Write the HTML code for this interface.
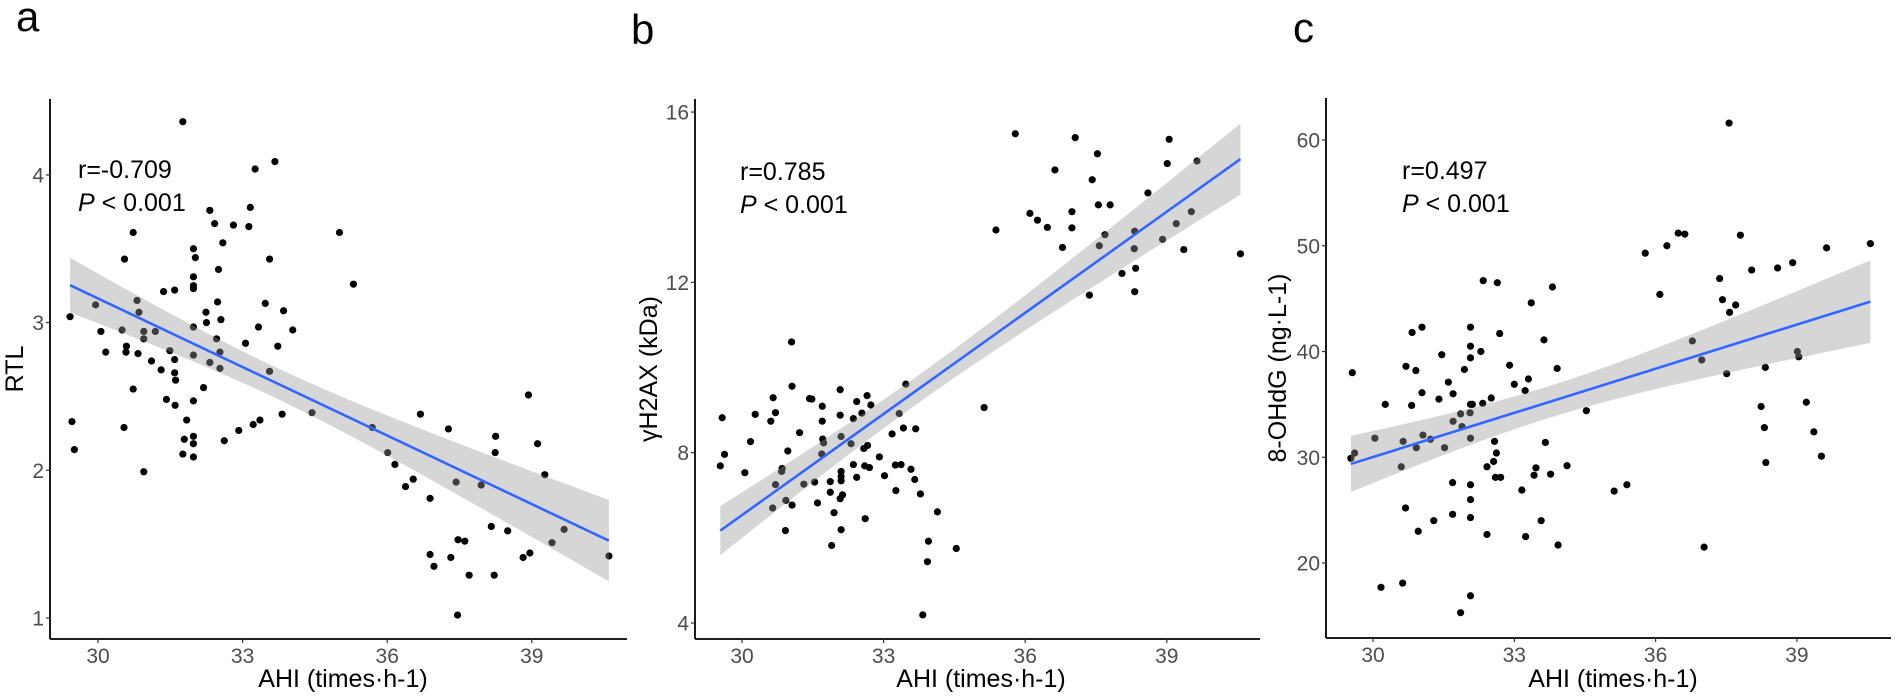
<!DOCTYPE html>
<html><head><meta charset="utf-8"><style>
html,body{margin:0;padding:0;background:#fff;}
svg{display:block;font-family:"Liberation Sans",sans-serif;}
</style></head><body>
<svg id="fig" width="1902" height="697" viewBox="0 0 1902 697"></svg>
<script>
// ---- Panel a data (AHI vs RTL)
const aX=[29.42,29.95,31.76,29.46,29.51,30.06,30.16,30.50,30.55,30.73,30.54,30.59,30.58,30.73,30.81,30.85,30.83,30.95,30.95,30.95,31.11,31.19,31.31,31.36,31.42,31.49,31.59,31.59,31.59,31.61,31.60,31.84,31.79,31.76,31.98,32.02,31.98,31.98,31.98,31.98,31.98,31.98,31.98,31.98,31.98,32.19,32.24,32.25,32.32,32.32,32.42,32.50,32.48,32.46,32.55,32.53,32.53,32.59,32.62,32.81,32.92,33.06,33.13,33.16,33.22,33.26,33.33,33.36,33.47,33.56,33.56,33.67,33.73,33.82,33.85,34.04,34.44,35.01,35.30,35.69,36.01,36.16,36.38,36.54,36.69,36.89,36.89,36.97,37.27,37.32,37.43,37.47,37.61,37.46,37.70,37.95,38.16,38.25,38.24,38.22,38.50,38.82,38.96,38.93,39.12,39.27,39.42,39.67,40.60];
const aY=[3.04,3.12,4.36,2.33,2.14,2.94,2.80,2.95,3.43,3.61,2.29,2.84,2.80,2.55,3.15,3.07,2.79,2.94,2.89,1.99,2.74,2.94,2.68,3.21,2.48,2.81,2.75,3.22,2.66,2.61,2.44,2.34,2.21,2.11,3.50,3.44,3.31,3.25,3.23,2.97,2.78,2.47,2.23,2.18,2.09,2.56,3.07,3.00,3.76,2.73,3.67,3.36,3.14,2.89,3.02,2.80,2.69,3.54,2.20,3.66,2.27,2.86,3.65,3.78,2.31,4.04,2.97,2.34,3.13,2.67,3.43,4.09,2.84,2.38,3.08,2.95,2.39,3.61,3.26,2.29,2.12,2.04,1.89,1.94,2.38,1.81,1.43,1.35,2.28,1.41,1.92,1.53,1.52,1.02,1.29,1.90,1.62,2.23,2.12,1.29,1.59,1.41,1.44,2.51,2.18,1.97,1.51,1.60,1.42];
const aXTicks=[30,33,36,39];
const aYTicks=[1,2,3,4];
// ---- Panel b data (AHI vs yH2AX)
const bX=[29.54,29.58,29.63,30.06,30.18,30.28,30.61,30.66,30.71,30.71,30.65,30.85,30.84,30.92,30.93,30.97,31.05,31.06,31.06,31.22,31.31,31.43,31.48,31.54,31.60,31.70,31.70,31.71,31.73,31.69,31.87,31.87,31.95,31.90,32.08,32.08,32.10,32.10,32.10,32.10,32.13,32.08,32.10,32.31,32.36,32.36,32.43,32.43,32.54,32.58,32.61,32.60,32.65,32.66,32.73,32.70,32.91,33.02,33.18,33.25,33.26,33.33,33.37,33.42,33.47,33.58,33.66,33.68,33.78,33.83,33.93,33.95,34.14,34.54,35.13,35.38,35.79,36.10,36.26,36.47,36.63,36.79,36.99,36.99,37.06,37.53,37.42,37.55,37.80,37.69,37.57,37.36,38.60,38.32,38.31,38.34,38.32,38.05,39.05,39.01,38.91,39.20,39.36,39.52,39.64,40.56];
const bY=[7.69,8.82,7.96,7.53,8.26,8.90,8.74,9.29,8.94,7.25,6.70,7.63,7.56,6.17,6.88,8.04,10.60,9.56,6.77,8.47,7.26,9.27,9.26,7.31,6.82,9.09,8.74,8.32,8.23,7.97,7.32,7.07,6.59,5.82,9.48,8.88,8.38,7.56,7.44,7.34,7.01,6.92,6.19,8.21,8.80,7.72,9.20,7.42,8.93,8.10,6.45,7.69,9.34,8.17,9.12,7.65,7.90,7.46,8.44,7.71,7.11,8.92,7.72,8.58,9.61,7.61,7.37,8.56,7.03,4.19,5.44,5.92,6.61,5.75,9.06,13.23,15.49,13.62,13.46,13.29,14.64,12.82,13.66,13.28,15.40,15.02,14.41,13.82,13.82,13.12,12.86,11.70,14.10,13.20,12.79,12.33,11.78,12.21,15.36,14.79,13.01,13.38,12.77,13.66,14.85,12.67];
const bXTicks=[30,33,36,39];
const bYTicks=[4,8,12,16];
// ---- Panel c data (AHI vs 8-OHdG)
const cX=[29.53,29.61,29.56,30.04,30.17,30.26,30.60,30.63,30.64,30.69,30.70,30.82,30.83,30.91,30.92,30.96,31.04,31.04,31.06,31.22,31.29,31.40,31.46,31.52,31.60,31.69,31.69,31.70,31.70,31.86,31.86,31.89,31.94,32.07,32.07,32.07,32.07,32.06,32.07,32.07,32.07,32.07,32.07,32.11,32.29,32.34,32.33,32.42,32.42,32.51,32.56,32.58,32.62,32.60,32.64,32.69,32.71,32.90,33.00,33.16,33.23,33.24,33.30,33.36,33.42,33.46,33.57,33.66,33.63,33.77,33.81,33.91,33.93,34.12,34.53,35.12,35.39,35.78,36.09,36.24,36.48,36.62,36.78,36.98,37.03,37.36,37.42,37.51,37.56,37.57,37.70,37.80,38.04,38.24,38.31,38.33,38.34,38.59,38.91,39.01,39.04,39.20,39.36,39.52,39.63,40.56];
const cY=[29.9,30.4,38.0,31.8,17.7,35.0,29.1,18.1,31.5,25.2,38.6,34.9,41.8,38.2,30.9,23.0,42.3,36.1,32.1,31.7,24.0,35.5,39.7,30.9,37.1,27.6,24.6,33.4,36.0,15.3,34.1,32.9,38.3,42.3,40.5,39.4,35.0,34.2,31.8,27.4,26.0,24.3,16.9,35.0,40.0,46.7,35.1,29.1,22.7,35.6,29.6,31.5,30.4,28.1,46.5,41.7,28.1,38.7,36.9,26.9,36.3,22.5,37.4,44.6,28.3,29.0,24.0,31.4,41.1,28.4,46.1,38.4,21.7,29.2,34.4,26.8,27.4,49.3,45.4,50.0,51.2,51.1,41.0,39.2,21.5,46.9,44.9,37.9,61.6,43.7,44.4,51.0,47.7,34.8,32.8,38.5,29.5,47.9,48.4,40.0,39.5,35.2,32.4,30.1,49.8,50.2];
const cXTicks=[30,33,36,39];
const cYTicks=[20,30,40,50,60];

const NS='http://www.w3.org/2000/svg';
const svg=document.getElementById('fig');
function mk(tag,attrs,parent){const e=document.createElementNS(NS,tag);for(const k in attrs)e.setAttribute(k,attrs[k]);(parent||svg).appendChild(e);return e;}

function panel(cfg){
  const g=mk('g',{});
  
  
  const sx=v=>cfg.x30+(v-30)*cfg.pxX;
  const sy=v=>cfg.yRefPx-(v-cfg.yRef)*cfg.pxY;
  const X=cfg.xs,Y=cfg.ys,n=X.length;
  // points
  const pts=mk('g',{},g);
  
  
  for(let i=0;i<n;i++){
    const c=mk('circle',{cx:sx(X[i]),cy:sy(Y[i]),r:3.6,fill:'#000'},pts);
    
    
  }
  // regression + CI
  let mx=0,my=0;for(let i=0;i<n;i++){mx+=X[i];my+=Y[i];}mx/=n;my/=n;
  let sxx=0,sxy=0;for(let i=0;i<n;i++){sxx+=(X[i]-mx)**2;sxy+=(X[i]-mx)*(Y[i]-my);}
  const b1=sxy/sxx,b0=my-b1*mx;
  let sse=0;for(let i=0;i<n;i++){sse+=(Y[i]-b0-b1*X[i])**2;}
  const s=Math.sqrt(sse/(n-2)),t=1.98;
  const xmin=Math.min(...X),xmax=Math.max(...X);
  const up=[],lo=[];
  for(let k=0;k<=60;k++){const xv=xmin+(xmax-xmin)*k/60;const f=b0+b1*xv;const se=s*Math.sqrt(1/n+(xv-mx)**2/sxx);
    up.push(sx(xv)+','+sy(f+t*se));lo.unshift(sx(xv)+','+sy(f-t*se));}
  const band=mk('polygon',{points:up.concat(lo).join(' '),fill:'#999999','fill-opacity':0.4},g);
  
  
  const ln=mk('line',{x1:sx(xmin),y1:sy(b0+b1*xmin),x2:sx(xmax),y2:sy(b0+b1*xmax),stroke:'#3366FF','stroke-width':2.6},g);
  
  
  // axes
  const ax=mk('line',{x1:cfg.axL,y1:cfg.axB,x2:cfg.axR,y2:cfg.axB,stroke:'#000','stroke-width':1.8},g);
  
  
  const ay=mk('line',{x1:cfg.axL,y1:cfg.axT,x2:cfg.axL,y2:cfg.axB,stroke:'#000','stroke-width':1.8},g);
  
  
  cfg.xt.forEach(v=>{
    mk('line',{x1:sx(v),y1:cfg.axB,x2:sx(v),y2:cfg.axB+4,stroke:'#333','stroke-width':1.2},g);
    const tx=mk('text',{x:sx(v),y:cfg.axB+24,'text-anchor':'middle','font-size':21,fill:'#4d4d4d'},g);
    tx.textContent=v;
    
    
  });
  cfg.yt.forEach(v=>{
    mk('line',{x1:cfg.axL-4,y1:sy(v),x2:cfg.axL,y2:sy(v),stroke:'#333','stroke-width':1.2},g);
    const tx=mk('text',{x:cfg.axL-6,y:sy(v)+7.5,'text-anchor':'end','font-size':21,fill:'#4d4d4d'},g);
    tx.textContent=v;
    
    
  });
  const xt=mk('text',{x:cfg.xTitleX,y:687,'text-anchor':'middle','font-size':25,fill:'#000'},g);
  xt.textContent='AHI (times·h-1)';
  
  
  const cy=(cfg.axT+cfg.axB)/2;
  const yt=mk('text',{x:cfg.yTitleX,y:cy,'text-anchor':'middle','font-size':25,fill:'#000',transform:`rotate(-90 ${cfg.yTitleX} ${cy})`,dy:9},g);
  yt.textContent=cfg.yTitle;
  
  
  const r=mk('text',{x:cfg.annX,y:cfg.annY,'font-size':25,fill:'#000'},g);
  r.textContent=cfg.r;
  
  
  const p=mk('text',{x:cfg.annX,y:cfg.annY+33,'font-size':25,fill:'#000'},g);
  
  
  const pi=mk('tspan',{'font-style':'italic'},p);pi.textContent='P';
  const pr=mk('tspan',{},p);pr.textContent=' < 0.001';
  const L=mk('text',{x:cfg.letX,y:cfg.letY,'font-size':42,fill:'#000'},g);
  L.textContent=cfg.letter;
  
  
}

panel({name:'panel-a',xs:aX,ys:aY,xt:aXTicks,yt:aYTicks,x30:98,pxX:48.2,yRef:1,yRefPx:618,pxY:147.7,
  axL:50,axR:627,axT:99,axB:639,xTitleX:343,yTitleX:14,yTitle:'RTL',annX:78,annY:178,r:'r=-0.709',letter:'a',letX:16,letY:31});
panel({name:'panel-b',xs:bX,ys:bY,xt:bXTicks,yt:bYTicks,x30:742,pxX:47.2,yRef:4,yRefPx:623,pxY:42.58,
  axL:695,axR:1260,axT:99,axB:639,xTitleX:981,yTitleX:648,yTitle:'γH2AX (kDa)',annX:740,annY:180,r:'r=0.785',letter:'b',letX:631,letY:44});
panel({name:'panel-c',xs:cX,ys:cY,xt:cXTicks,yt:cYTicks,x30:1373,pxX:47.1,yRef:20,yRefPx:563,pxY:10.575,
  axL:1326,axR:1891,axT:98,axB:638,xTitleX:1613,yTitleX:1277,yTitle:'8-OHdG (ng·L-1)',annX:1402,annY:179,r:'r=0.497',letter:'c',letX:1293,letY:42});
</script>
</body></html>
